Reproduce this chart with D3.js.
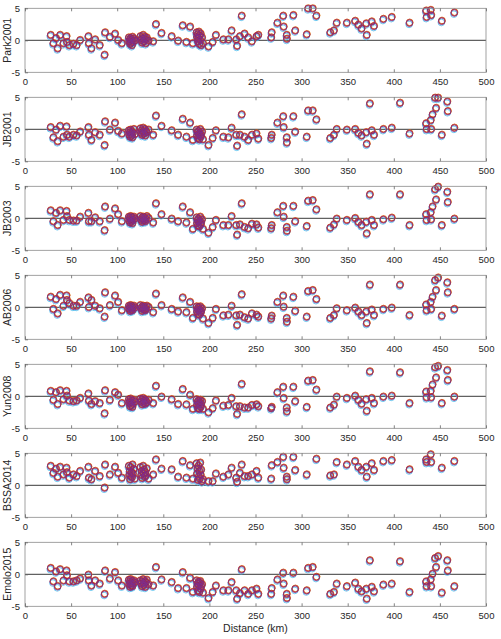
<!DOCTYPE html>
<html><head><meta charset="utf-8">
<script src="https://cdnjs.cloudflare.com/ajax/libs/d3/7.8.5/d3.min.js"></script>
<style>
body{margin:0;background:#fff}
text{font-family:Arial,"Liberation Sans",Helvetica,sans-serif;fill:#262626}
</style>
</head><body><svg id="c" width="501" height="639"></svg>
<script>
// Station distances (km): singles, cluster ~115, cluster ~129, singles, cluster ~189, singles
const distance = [27.8,30.7,33.6,35.4,38,41.6,45,45.5,48,52.4,56,59.7,68.7,69.2,72,76,81,86.8,86.3,92,97.6,101,105,
  112.5,113,113.5,114,114.5,115,115.5,116,116.5,117,118,119,
  125,126,126.5,127,128,128.5,129,130,130.5,131,132,134,
  139,142,148,159,166,171,175,179,182,
  186,186.5,187,187.5,188,188.5,189,189.5,190,190.5,191,192,
  193,199,203.5,207,215,220.5,224,229,230,235,233,238,242,246,251,253,267.5,267,273.7,280,
  280.5,283.8,284,291,293,305.5,307,312,316,331,335,338,349,358,361.5,365,370.6,370,374,376,
  378.5,388.6,397.7,406.7,417,435,435.5,440,440.5,442,444.7,445.8,448,452,458,458.5,465.6];

const park2001 = [0.8,-0.5,0.3,-1.3,0.8,-0.5,0.6,-0.3,-0.8,-0.6,-0.8,0.0,0.6,-0.5,-1.3,0.1,-0.8,1.2,-2.3,0.5,1.0,0.0,-0.5,
  0.4,-0.2,0.1,-0.6,0.3,-0.4,0.0,-0.8,0.5,-0.3,0.2,-0.1,
  0.6,0.0,0.3,-0.4,0.8,0.2,-0.2,0.5,0.1,-0.5,0.4,-0.1,
  -0.2,2.5,1.1,0.6,-0.1,2.3,-0.3,2.1,-0.5,
  1.2,0.5,0.9,-0.2,0.3,1.3,-0.6,0.7,0.0,1.0,-0.8,0.4,
  -0.5,-1.0,-0.3,0.8,0.1,0.1,1.5,0.1,-0.9,3.8,0.6,1.0,0.4,-0.2,0.6,0.8,1.2,0.4,2.7,3.8,
  2.1,0.8,0.2,3.9,1.5,0.9,4.95,4.95,3.8,1.2,1.5,2.7,2.7,3.0,2.4,1.8,0.8,2.6,null,2.9,
  2.2,3.3,3.6,null,2.7,4.6,3.6,4.7,3.9,null,null,null,null,3.0,null,null,4.3];

const jb2001 = [0.3,-1.3,-0.1,-1.9,0.5,-1.2,0.4,-0.9,-1.2,-0.9,-1.0,-0.4,0.3,-0.9,-1.7,-0.5,-0.9,1.2,-2.5,-0.1,1.0,-0.3,-0.7,
  -0.2,-0.9,-0.5,-1.2,-0.1,-0.7,-1.0,-0.4,-1.3,-0.6,0.0,-0.8,
  0.1,-0.6,-0.2,-0.9,0.2,-0.4,-0.7,0.0,-1.0,-0.3,-0.5,-0.1,
  -0.9,2.1,0.5,-0.2,-0.9,1.6,-1.2,1.0,-1.7,
  -0.1,-1.0,-0.5,-1.4,-0.3,-0.8,-1.6,-0.6,0.0,-1.2,-0.9,-0.4,
  -1.6,-2.5,-1.4,-0.2,-1.2,-1.3,0.2,-0.9,-2.6,2.3,-0.9,-1.2,-1.7,-0.9,-0.7,-1.5,-0.9,-1.4,1.0,2.0,
  0.3,-1.3,-2.1,2.0,-0.4,-1.2,2.9,2.9,1.5,-1.4,-0.9,0.0,-0.1,0.0,-0.6,-1.0,-2.3,-0.5,4.0,-0.2,
  -0.9,0.0,0.2,4.1,-0.7,0.9,0.0,1.4,0.0,2.3,4.9,3.3,4.9,-0.9,4.3,2.8,0.2];

const jb2003 = [1.2,-0.5,0.8,-1.1,1.2,-0.3,1.1,0.3,-0.3,-0.4,-0.4,0.2,0.8,-0.5,-0.5,0.1,-0.5,1.8,-1.9,-0.1,1.5,0.6,-0.5,
  0.2,-0.4,0.0,-0.7,0.3,-0.2,-0.5,0.1,-0.8,-0.3,0.2,-0.1,
  0.3,-0.3,0.0,-0.6,0.2,-0.1,-0.4,0.1,-0.5,-0.2,0.3,0.0,
  -0.7,2.3,0.6,-0.1,-0.5,1.8,-0.7,0.9,-1.7,
  0.1,-0.8,-0.3,-1.2,-0.1,-0.6,-1.3,-0.4,0.2,-1.0,-0.7,-0.2,
  -1.7,-2.3,-1.4,-0.3,-1.1,-1.1,0.3,-1.1,-2.6,2.3,-1.0,-1.4,-1.6,-0.9,-1.0,-1.5,-1.1,-1.6,0.9,1.9,
  0.2,-1.4,-2.0,1.9,-0.5,-1.25,2.7,2.8,1.35,-1.5,-1.0,-0.1,-0.3,0.0,-0.6,-1.1,-2.4,-0.6,3.7,-0.3,
  -1.1,-0.2,0.05,3.7,-1.1,0.6,-0.3,0.9,-0.2,1.8,4.5,2.9,4.9,-1.1,4.1,2.5,-0.1];

const ab2006 = [1.6,-0.3,1.25,-1.0,1.9,0.2,1.8,1.1,0.6,0.2,0.2,0.8,1.5,0.0,1.1,0.2,-0.2,2.3,-1.5,0.3,1.8,0.8,-0.5,
  0.2,-0.3,0.0,-0.6,0.3,-0.1,-0.4,0.1,-0.5,-0.2,0.2,-0.1,
  0.3,-0.2,0.0,-0.6,0.2,-0.1,-0.4,0.1,-0.5,-0.3,0.2,0.0,
  -0.8,2.1,0.3,-0.3,-0.7,1.5,-0.8,0.8,-1.7,
  0.1,-0.7,-0.3,-1.1,0.0,-0.5,-1.2,-0.4,0.1,-0.9,-0.6,-0.2,
  -1.8,-2.5,-1.7,-0.3,-1.3,-1.2,0.2,-1.3,-2.8,2.0,-1.2,-1.6,-1.8,-1.0,-1.2,-1.5,-1.35,-1.8,0.8,1.8,
  0.05,-1.7,-2.3,1.6,-0.6,-1.5,2.5,2.65,1.25,-1.7,-1.25,-0.2,-0.5,-0.1,-0.7,-1.25,-2.5,-0.7,3.5,-0.4,
  -1.25,-0.3,-0.1,3.5,-1.25,0.4,-0.5,0.8,-0.3,1.6,4.2,2.65,4.6,-1.35,3.85,2.3,-0.3];

const yun2008 = [0.8,-0.6,0.6,-1.25,0.9,-0.5,0.8,0.05,-0.7,-0.8,-0.7,-0.3,0.4,-0.7,-1.25,-0.8,-1.1,0.9,-2.7,-0.6,0.6,0.2,-1.1,
  -0.5,-1.1,-0.8,-1.6,-0.4,-1.0,-1.4,-0.7,-1.7,-1.2,-0.6,-0.9,
  -0.4,-0.9,-0.6,-1.3,-0.3,-0.8,-1.1,-0.5,-1.2,-0.7,-1.0,-0.6,
  -1.1,1.6,-0.1,-0.5,-1.25,1.1,-1.3,0.2,-2.0,
  -0.5,-1.4,-0.9,-1.9,-0.7,-1.2,-2.0,-1.0,-0.6,-1.7,-1.3,-0.8,
  -2.0,-2.55,-1.9,-0.7,-1.5,-1.4,-0.3,-1.6,-2.8,1.9,-1.6,-1.8,-1.8,-1.4,-1.3,-1.6,-1.7,-1.9,0.6,1.45,
  -0.3,-1.8,-2.4,1.45,-0.8,-1.7,2.4,2.5,1.0,-1.8,-1.35,-0.1,-0.3,0.05,-0.6,-1.2,-2.3,-0.5,3.85,-0.3,
  -1.1,-0.1,0.05,3.7,-1.1,0.7,-0.2,0.8,-0.2,1.8,4.5,2.9,4.7,-1.1,4.05,2.5,-0.1];

const bssa2014 = [3.0,1.9,2.55,1.3,2.85,1.65,2.7,2.0,1.15,1.65,1.4,2.2,2.85,1.15,0.9,2.2,1.4,3.2,-0.4,1.65,2.85,1.9,1.15,
  3.0,1.6,2.2,0.9,2.8,1.4,2.0,1.2,3.2,1.8,2.5,1.0,
  2.8,1.6,2.2,1.1,3.0,1.8,2.4,1.3,2.0,1.5,2.6,1.0,
  1.65,4.0,2.55,2.45,1.3,3.75,1.15,3.1,1.0,
  3.4,1.8,2.6,0.8,3.0,1.4,2.2,1.0,3.5,1.6,2.4,0.6,
  0.9,0.6,0.6,1.8,1.3,1.65,2.7,1.15,0.5,3.2,1.9,1.4,1.4,1.65,2.2,1.15,3.1,1.0,3.6,4.4,
  2.7,1.3,0.9,4.4,2.35,1.65,null,null,4.1,1.5,1.65,3.6,3.2,3.75,2.85,2.35,1.3,2.85,null,3.4,
  2.35,3.75,3.9,null,2.45,4.0,3.6,4.8,3.6,null,null,null,null,2.7,null,null,3.75];

const emolo2015 = [0.95,-1.15,0.4,-1.9,0.75,-1.0,0.55,-0.2,-1.15,-1.15,-1.0,-0.7,-0.1,-1.0,-1.8,-1.0,-1.5,0.55,-3.1,-0.7,0.3,-1.0,-1.8,
  -0.9,-1.6,-1.2,-2.0,-0.8,-1.4,-1.8,-1.1,-1.9,-1.5,-1.0,-1.3,
  -1.0,-1.5,-1.2,-1.9,-0.8,-1.4,-1.7,-1.1,-2.0,-1.3,-0.9,-1.6,
  -1.8,1.1,-0.85,-1.25,-2.2,0.3,-2.2,-0.6,-2.8,
  -1.0,-2.0,-1.5,-2.6,-1.2,-1.8,-2.8,-1.4,-1.1,-2.3,-1.9,-1.6,
  -2.9,-3.75,-2.8,-1.8,-2.55,-2.55,-1.25,-2.55,-3.85,0.75,-3.0,-2.55,-3.1,-2.55,-2.3,-3.1,-2.2,-3.1,-0.85,0.2,
  -1.5,-3.1,-3.75,0.2,-2.3,-2.55,0.95,1.1,-0.45,-3.1,-2.8,-1.5,-1.9,-1.35,-2.3,-2.7,-3.85,-2.3,2.15,-2.0,
  -2.7,-1.65,-1.5,2.0,-2.8,-1.15,-1.9,-0.85,-1.9,0.05,2.5,1.1,2.8,-2.9,2.15,0.55,-1.9];

const modelNames = ["Park2001","JB2001","JB2003","AB2006","Yun2008","BSSA2014","Emolo2015"];
const modelResiduals = [park2001, jb2001, jb2003, ab2006, yun2008, bssa2014, emolo2015];
const xTicks = [0,50,100,150,200,250,300,350,400,450,500];
const yTicks = [-5,0,5];
const xLabel = "Distance (km)";

// marker layers (style): colour and small pixel offset of each overlaid circle
const layers = [
  {c:"#4DBEEE", dx:-0.4, dy:1.4, o:0.9},
  {c:"#EDB120", dx:0.4, dy:-0.5, o:0.6},
  {c:"#D95319", dx:0.2, dy:-0.7, o:0.85},
  {c:"#A2142F", dx:0, dy:-0.1, o:0.8},
  {c:"#7E2F8E", dx:-0.1, dy:0.3, o:0.75}
];

const svg = d3.select("#c");
const L = 25, R = 486, top0 = 8.3, step = 89, H = 64;
const x = d3.scaleLinear().domain([0,500]).range([L,R]);

modelNames.forEach((name, i) => {
  const t = top0 + i*step;
  const y = d3.scaleLinear().domain([-5,5]).range([t+H, t]);
  const g = svg.append("g");
  const cid = "clip"+i;
  svg.append("clipPath").attr("id",cid).append("rect").attr("x",L-4).attr("y",t-4).attr("width",R-L+8).attr("height",H+8);

  g.append("line").attr("x1",L).attr("x2",R).attr("y1",y(0)).attr("y2",y(0))
    .attr("stroke","#3a3a3a").attr("stroke-width",1);

  const pts = distance.map((d,k)=>({d, v:modelResiduals[i][k]})).filter(p=>p.v!==null);
  const pg = g.append("g").attr("clip-path",`url(#${cid})`);
  layers.forEach(ly => {
    pg.selectAll(null).data(pts).enter().append("circle")
      .attr("cx", p => x(p.d)+ly.dx).attr("cy", p => y(p.v)+ly.dy)
      .attr("r",3.3).attr("fill","none").attr("stroke",ly.c)
      .attr("stroke-opacity",ly.o).attr("stroke-width",0.9);
  });

  g.append("rect").attr("x",L).attr("y",t).attr("width",R-L).attr("height",H)
    .attr("fill","none").attr("stroke","#8a8a8a").attr("stroke-width",0.8);

  const xb = d3.axisBottom(x).tickValues(xTicks).tickSize(-3).tickPadding(6).tickFormat(d3.format("d"));
  const ax = g.append("g").attr("transform",`translate(0,${t+H})`).call(xb);
  const xt = d3.axisTop(x).tickValues(xTicks).tickSize(-3).tickFormat("");
  const axt = g.append("g").attr("transform",`translate(0,${t})`).call(xt);
  const yl = d3.axisLeft(y).tickValues(yTicks).tickSize(-3).tickPadding(5).tickFormat(d3.format("d"));
  const ay = g.append("g").attr("transform",`translate(${L},0)`).call(yl);
  [ax,axt,ay].forEach(a=>{
    a.select(".domain").remove();
    a.selectAll(".tick line").attr("stroke","#666").attr("stroke-width",0.8);
    a.selectAll("text").attr("font-size","9.5px").attr("fill","#333").attr("font-family","Arial, 'Liberation Sans', sans-serif");
  });
  ay.selectAll("text").text(d => d<0 ? "-"+Math.abs(d) : d);

  g.append("text").attr("transform",`translate(11,${t+H/2}) rotate(-90)`)
    .attr("text-anchor","middle").attr("font-size","10.5px").attr("fill","#333").text(name);
});

svg.append("text").attr("x",(L+R)/2).attr("y",632).attr("text-anchor","middle")
  .attr("font-size","10.5px").attr("fill","#333").text(xLabel);
</script>
</body></html>
